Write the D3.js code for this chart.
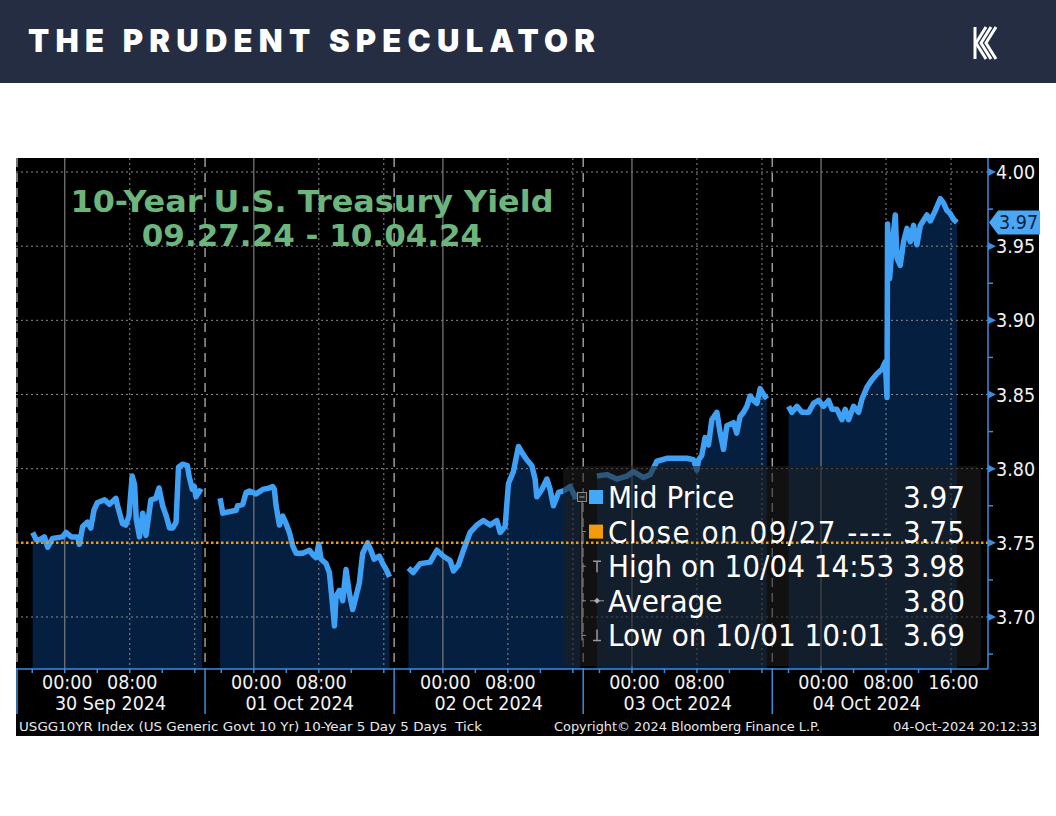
<!DOCTYPE html>
<html>
<head>
<meta charset="utf-8">
<script src="https://cdn.jsdelivr.net/npm/d3@7"></script>
<style>
body { margin: 0; background: #fff; }
svg { display: block; }
text { white-space: pre; }
</style>
</head>
<body>
<svg width="1056" height="816"></svg>
<script>
// ---- data ----
// each point: [hour relative to that day's midnight, yield %]
var dayLabels = ["30 Sep 2024", "01 Oct 2024", "02 Oct 2024", "03 Oct 2024", "04 Oct 2024"];

var sep30 = [[-3.95,3.757],[-3.5,3.752],[-3.13,3.752],[-2.5,3.754],[-2.1,3.747],[-1.5,3.753],[-0.3,3.754],[0.15,3.757],
  [0.8,3.754],[1.6,3.754],[1.8,3.749],[2.2,3.761],[2.8,3.764],[3.2,3.760],[3.6,3.772],[4.0,3.777],[4.9,3.779],[5.5,3.776],
  [6.3,3.780],[6.5,3.775],[7.1,3.763],[7.5,3.762],[7.9,3.768],[8.3,3.795],[8.6,3.789],[8.8,3.766],[9.2,3.754],[9.6,3.770],
  [10.0,3.755],[10.6,3.779],[11.2,3.780],[11.6,3.787],[12.05,3.775],[12.5,3.768],[12.9,3.760],[13.3,3.760],[13.7,3.764],
  [14.0,3.801],[14.5,3.803],[15.1,3.802],[15.3,3.795],[15.7,3.786],[15.95,3.788],[16.15,3.781],[16.6,3.785],[16.9,3.784]];

var oct01 = [[-4.15,3.780],[-3.82,3.770],[-2.18,3.772],[-1.98,3.775],[-1.36,3.776],[-0.95,3.784],[-0.54,3.785],[0.28,3.783],
  [1.1,3.786],[1.92,3.787],[2.33,3.788],[2.53,3.786],[2.74,3.775],[3.15,3.762],[3.56,3.768],[3.97,3.763],[4.38,3.757],
  [4.79,3.748],[5.2,3.743],[6.0,3.743],[6.84,3.745],[7.25,3.742],[7.66,3.740],[7.99,3.749],[8.28,3.739],[8.89,3.736],
  [9.3,3.730],[9.71,3.707],[9.92,3.694],[10.12,3.714],[10.53,3.718],[10.94,3.711],[11.35,3.732],[11.76,3.716],[12.17,3.705],
  [12.58,3.714],[12.99,3.723],[13.4,3.743],[14.0,3.750],[14.4,3.745],[14.8,3.739],[15.45,3.741],[15.87,3.736],[16.3,3.732],
  [16.7,3.727]];

var oct02 = [[-4.24,3.733],[-3.66,3.730],[-2.8,3.736],[-1.57,3.737],[-0.74,3.745],[0.07,3.741],[0.89,3.738],[1.3,3.731],
  [1.91,3.735],[2.53,3.745],[3.35,3.757],[4.18,3.762],[4.99,3.765],[5.82,3.762],[6.64,3.765],[7.05,3.757],[7.66,3.761],
  [8.07,3.790],[8.68,3.798],[9.3,3.815],[9.72,3.811],[10.33,3.806],[10.95,3.802],[11.35,3.793],[11.56,3.781],[12.18,3.786],
  [12.8,3.793],[13.2,3.786],[13.6,3.775],[14.24,3.784],[14.84,3.785],[15.66,3.788],[16.28,3.781],[16.9,3.783]];

var oct03 = [[-4.32,3.795],[-3.09,3.796],[-1.86,3.793],[-0.63,3.795],[0.2,3.798],[1.42,3.794],[2.25,3.796],[3.07,3.805],
  [4.3,3.807],[5.53,3.807],[6.76,3.807],[7.58,3.806],[7.99,3.799],[8.2,3.806],[8.6,3.809],[9.0,3.821],[9.42,3.816],
  [9.83,3.833],[10.45,3.838],[10.86,3.824],[11.27,3.813],[11.68,3.829],[12.5,3.831],[12.9,3.824],[13.3,3.835],[13.73,3.838],
  [14.14,3.842],[14.55,3.849],[14.96,3.846],[15.38,3.844],[15.78,3.854],[16.2,3.850],[16.6,3.847]];

var oct04 = [[-4.0,3.842],[-3.58,3.838],[-2.96,3.842],[-2.34,3.838],[-1.53,3.838],[-0.92,3.844],[-0.3,3.846],[0.31,3.842],
  [0.93,3.846],[1.35,3.840],[1.96,3.840],[2.58,3.833],[2.98,3.840],[3.39,3.833],[4.0,3.842],[4.62,3.838],[5.04,3.847],
  [5.66,3.855],[6.27,3.860],[6.89,3.864],[7.5,3.867],[7.91,3.872],[8.12,3.848],[8.19,3.965],[8.44,3.928],[8.73,3.949],
  [9.14,3.971],[9.35,3.942],[9.75,3.937],[10.16,3.953],[10.58,3.962],[10.98,3.953],[11.39,3.964],[11.8,3.951],[12.22,3.964],
  [13.04,3.971],[13.45,3.967],[14.06,3.974],[14.68,3.982],[15.09,3.979],[15.5,3.974],[15.9,3.972],[16.32,3.968],[16.73,3.966]];

var days = [sep30, oct01, oct02, oct03, oct04];

var yTicks = [3.70, 3.75, 3.80, 3.85, 3.90, 3.95, 4.00];
var yMinor = [3.675, 3.725, 3.775, 3.825, 3.875, 3.925, 3.975];
var hourTicks = [-4, 0, 4, 8, 12, 16];   // small axis ticks
var gridSolid = [0];                      // 00:00
var gridDotted = [8, 16];                 // 08:00, 16:00
var prevClose = 3.75;

var legendRows = [
  { label: "Mid Price",            value: "3.97", mark: "mid" },
  { label: "Close on 09/27 ----",  value: "3.75", mark: "close" },
  { label: "High on 10/04 14:53",  value: "3.98", mark: "high" },
  { label: "Average",              value: "3.80", mark: "avg" },
  { label: "Low on 10/01 10:01",   value: "3.69", mark: "low" }
];

// ---- layout ----
var svg = d3.select("svg");
var plotTop = 158, plotBottom = 669, plotLeft = 16, plotRight = 988;
var SESSION = 23.27; // hours shown per day panel (18:00 -> ~17:15)

var x = d3.scaleLinear().domain([0, (plotRight - plotLeft) / 8.125]).range([plotLeft, plotRight]);
var y = d3.scaleLinear().domain([3.70, 4.00]).range([617, 172]);
function xt(i, h) { return x(i * SESSION + h + 6); }

var blue = "#3fa1f6", axisBlue = "#3a8ddf", grid = "#8c8c8c";
var bbgFont = "'DejaVu Sans Condensed', 'DejaVu Sans', Tahoma, sans-serif";

// header bar
svg.append("rect").attr("x", 0).attr("y", 0).attr("width", 1056).attr("height", 83).attr("fill", "#252d42");
svg.append("text")
  .attr("x", 28).attr("y", 52)
  .attr("textLength", 567).attr("lengthAdjust", "spacing")
  .attr("font-family", "Inter, 'DejaVu Sans', sans-serif").attr("font-weight", 900)
  .attr("font-size", 31).attr("fill", "#fff")
  .text("THE PRUDENT SPECULATOR");

// little K logo, three parallel strokes
var logo = svg.append("g").attr("fill", "none").attr("stroke", "#fff").attr("stroke-width", 3);
[0, 1, 2].forEach(function(i) {
  logo.append("path").attr("d",
    "M" + (986 + i * 5) + ",27 L" + (976 + i * 5) + ",43 L" + (986 + i * 5) + ",59");
});
logo.append("path").attr("d", "M975,27 L975,59").attr("stroke-width", 3);

// chart panel
svg.append("rect").attr("x", 16).attr("y", 158).attr("width", 1023).attr("height", 578).attr("fill", "#000");

svg.append("clipPath").attr("id", "plotclip").append("rect")
  .attr("x", plotLeft).attr("y", plotTop).attr("width", plotRight - plotLeft).attr("height", plotBottom - plotTop);
var plot = svg.append("g").attr("clip-path", "url(#plotclip)");

// area under each day's line
days.forEach(function(d, i) {
  var area = d3.area()
    .x(function(p) { return xt(i, p[0]); })
    .y0(plotBottom)
    .y1(function(p) { return y(p[1]); });
  plot.append("path").datum(d).attr("d", area).attr("fill", "#051f40");
});

// horizontal grid
plot.selectAll(".hgrid").data(yTicks).enter().append("line")
  .attr("x1", plotLeft).attr("x2", plotRight)
  .attr("y1", function(d) { return y(d); }).attr("y2", function(d) { return y(d); })
  .attr("stroke", grid).attr("stroke-width", 1).attr("stroke-dasharray", "2,3");

// vertical grid
days.forEach(function(d, i) {
  gridSolid.forEach(function(h) {
    plot.append("line").attr("x1", xt(i, h)).attr("x2", xt(i, h))
      .attr("y1", plotTop).attr("y2", plotBottom).attr("stroke", "#7d7d7d").attr("stroke-width", 1.2);
  });
  gridDotted.forEach(function(h) {
    plot.append("line").attr("x1", xt(i, h)).attr("x2", xt(i, h))
      .attr("y1", plotTop).attr("y2", plotBottom).attr("stroke", grid).attr("stroke-dasharray", "2,3");
  });
  if (i < 4) {
    var bx = x((i + 1) * SESSION);
    plot.append("line").attr("x1", bx).attr("x2", bx)
      .attr("y1", plotTop).attr("y2", plotBottom)
      .attr("stroke", "#9a9a9a").attr("stroke-width", 1.5).attr("stroke-dasharray", "9,6");
  }
});
plot.append("line").attr("x1", plotLeft + 1).attr("x2", plotLeft + 1).attr("y1", plotTop).attr("y2", plotBottom)
  .attr("stroke", "#9a9a9a").attr("stroke-width", 1.5).attr("stroke-dasharray", "9,6");

// chart title
var title = svg.append("g").attr("font-family", "'DejaVu Sans', Verdana, sans-serif")
  .attr("font-weight", "bold").attr("font-size", 31).attr("fill", "#6cb57c").attr("text-anchor", "middle");
title.append("text").attr("x", 312).attr("y", 212).attr("textLength", 483).attr("lengthAdjust", "spacingAndGlyphs")
  .text("10-Year U.S. Treasury Yield");
title.append("text").attr("x", 312).attr("y", 246).text("09.27.24 - 10.04.24");

// yield lines
days.forEach(function(d, i) {
  var line = d3.line()
    .x(function(p) { return xt(i, p[0]); })
    .y(function(p) { return y(p[1]); });
  plot.append("path").datum(d).attr("d", line)
    .attr("fill", "none").attr("stroke", blue).attr("stroke-width", 5.5)
    .attr("stroke-linejoin", "round");
});

// legend panel (translucent, dims what is behind)
svg.append("rect").attr("x", 563).attr("y", 466).attr("width", 418).attr("height", 200)
  .attr("rx", 6).attr("fill", "rgba(30,30,30,0.57)");

// previous close line
svg.append("line").attr("x1", plotLeft).attr("x2", plotRight)
  .attr("y1", y(prevClose)).attr("y2", y(prevClose))
  .attr("stroke", "#f29a12").attr("stroke-width", 2.5).attr("stroke-dasharray", "2.5,2.5");

// legend
var lg = svg.append("g");
var rowY = function(i) { return 497 + i * 34.6; };
lg.append("line").attr("x1", 582).attr("x2", 582).attr("y1", 502).attr("y2", rowY(4) + 5)
  .attr("stroke", "#8a8a8a").attr("stroke-width", 1.2);
lg.append("rect").attr("x", 577.5).attr("y", 492.5).attr("width", 9).attr("height", 9)
  .attr("fill", "#222").attr("stroke", "#8a8a8a");
lg.append("line").attr("x1", 579.5).attr("x2", 584.5).attr("y1", 497).attr("y2", 497).attr("stroke", "#aaa");
[1, 2, 3, 4].forEach(function(i) {
  lg.append("line").attr("x1", 582).attr("x2", 586).attr("y1", rowY(i)).attr("y2", rowY(i))
    .attr("stroke", "#8a8a8a");
});
legendRows.forEach(function(r, i) {
  var cy = rowY(i);
  if (r.mark === "mid" || r.mark === "close") {
    lg.append("rect").attr("x", 589).attr("y", cy - 7).attr("width", 14).attr("height", 14)
      .attr("fill", r.mark === "mid" ? "#42a8f8" : "#f39a0f");
  } else if (r.mark === "high") {
    lg.append("path").attr("d", "M593," + (cy - 5) + " L601," + (cy - 5) + " M597," + (cy - 5) + " L597," + (cy + 6))
      .attr("stroke", "#999").attr("stroke-width", 1.5).attr("fill", "none");
  } else if (r.mark === "avg") {
    lg.append("line").attr("x1", 590).attr("x2", 604).attr("y1", cy).attr("y2", cy).attr("stroke", "#999");
    lg.append("path").attr("d", "M597," + (cy - 3) + " L600," + cy + " L597," + (cy + 3) + " L594," + cy + "Z")
      .attr("fill", "#aaa");
  } else {
    lg.append("path").attr("d", "M597," + (cy - 6) + " L597," + (cy + 5) + " M593," + (cy + 5) + " L601," + (cy + 5))
      .attr("stroke", "#999").attr("stroke-width", 1.5).attr("fill", "none");
  }
  var t = lg.append("text").attr("x", 608).attr("y", cy + 11)
    .attr("font-family", bbgFont).attr("font-size", 31).attr("fill", "#fff")
    .text(r.label);
  if (r.mark === "close") t.attr("textLength", 284).attr("lengthAdjust", "spacing");
  lg.append("text").attr("x", 965).attr("y", cy + 11).attr("text-anchor", "end")
    .attr("font-family", bbgFont).attr("font-size", 31).attr("fill", "#fff")
    .text(r.value);
});

// right y axis
var ya = svg.append("g");
ya.append("line").attr("x1", plotRight).attr("x2", plotRight).attr("y1", plotTop).attr("y2", plotBottom)
  .attr("stroke", axisBlue).attr("stroke-width", 1.5);
ya.selectAll(".maj").data(yTicks).enter().append("path")
  .attr("d", function(d) { var yy = y(d); return "M" + plotRight + "," + (yy - 4) + " L" + (plotRight + 8) + "," + yy + " L" + plotRight + "," + (yy + 4) + "Z"; })
  .attr("fill", axisBlue);
ya.selectAll(".min").data(yMinor).enter().append("line")
  .attr("x1", plotRight).attr("x2", plotRight + 5)
  .attr("y1", function(d) { return y(d); }).attr("y2", function(d) { return y(d); })
  .attr("stroke", axisBlue).attr("stroke-width", 1.5);
ya.selectAll(".lbl").data(yTicks).enter().append("text")
  .attr("x", 996).attr("y", function(d) { return y(d) + 7; })
  .attr("font-family", bbgFont).attr("font-size", 19.5).attr("fill", "#f2f2f2")
  .text(function(d) { return d3.format(".2f")(d); });

// last value tag
var last = oct04[oct04.length - 1][1], ly = y(last);
ya.append("path")
  .attr("d", "M989," + ly + " L998," + (ly - 12) + " L1040," + (ly - 12) + " L1040," + (ly + 12) + " L998," + (ly + 12) + "Z")
  .attr("fill", "#4aa7f5");
ya.append("text").attr("x", 999).attr("y", ly + 7)
  .attr("font-family", bbgFont).attr("font-size", 19.5).attr("fill", "#0c1e38")
  .text(d3.format(".2f")(last));

// bottom x axis
var xa = svg.append("g");
xa.append("line").attr("x1", plotLeft).attr("x2", plotRight).attr("y1", plotBottom).attr("y2", plotBottom)
  .attr("stroke", axisBlue).attr("stroke-width", 1.5);
dayLabels.forEach(function(lbl, i) {
  var bx = x(i * SESSION);
  xa.append("line").attr("x1", bx + (i === 0 ? 1 : 0)).attr("x2", bx + (i === 0 ? 1 : 0))
    .attr("y1", plotBottom).attr("y2", 714).attr("stroke", axisBlue).attr("stroke-width", 1.5);
  hourTicks.forEach(function(h) {
    xa.append("line").attr("x1", xt(i, h)).attr("x2", xt(i, h))
      .attr("y1", plotBottom).attr("y2", plotBottom + 4).attr("stroke", axisBlue).attr("stroke-width", 1.5);
  });
  var times = i === 4 ? [0, 8, 16] : [0, 8];
  times.forEach(function(h) {
    xa.append("text").attr("x", xt(i, h) + 2.5).attr("y", 689).attr("text-anchor", "middle")
      .attr("font-family", bbgFont).attr("font-size", 19.5).attr("fill", "#f2f2f2")
      .text(d3.format("02d")(h) + ":00");
  });
  xa.append("text").attr("x", x(i * SESSION + SESSION / 2)).attr("y", 710).attr("text-anchor", "middle")
    .attr("font-family", bbgFont).attr("font-size", 19.5).attr("fill", "#f2f2f2")
    .text(lbl);
});

// footer line
var foot = svg.append("g").attr("font-family", "'DejaVu Sans', Tahoma, sans-serif")
  .attr("font-size", 13).attr("fill", "#e8e8e8");
foot.append("text").attr("x", 19).attr("y", 731).attr("textLength", 463).attr("lengthAdjust", "spacingAndGlyphs")
  .text("USGG10YR Index (US Generic Govt 10 Yr) 10-Year 5 Day 5 Days  Tick");
foot.append("text").attr("x", 554).attr("y", 731).attr("textLength", 266).attr("lengthAdjust", "spacingAndGlyphs")
  .text("Copyright\u00a9 2024 Bloomberg Finance L.P.");
foot.append("text").attr("x", 893).attr("y", 731).attr("textLength", 144).attr("lengthAdjust", "spacingAndGlyphs")
  .text("04-Oct-2024 20:12:33");
</script>
</body>
</html>
